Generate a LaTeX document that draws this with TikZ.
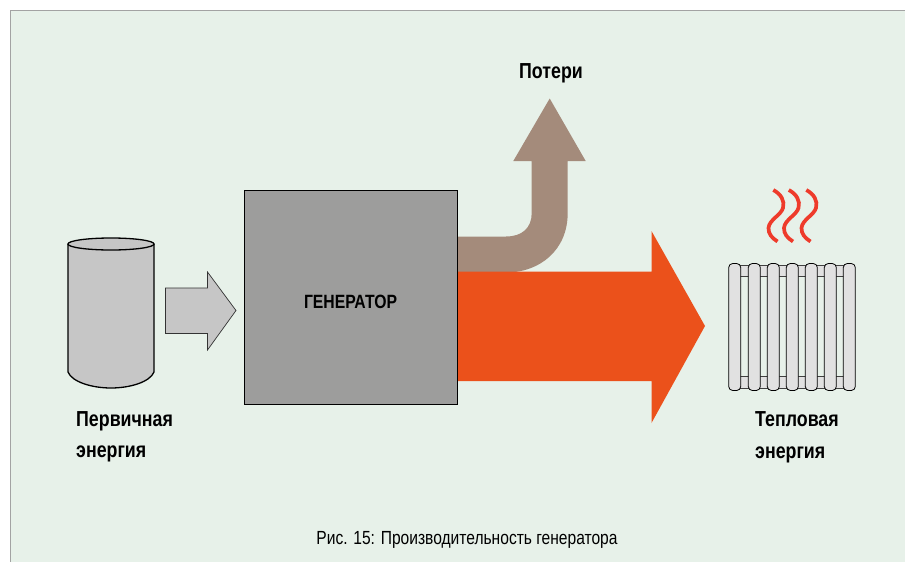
\documentclass[tikz,border=0pt]{standalone}
\usepackage{fontspec}
\usepackage{tikz}
\setmainfont{Liberation Sans}
\newfontfamily\narrowfont[FakeStretch=0.82]{Liberation Sans}
\definecolor{panelgreen}{HTML}{E7F1E9}
\definecolor{framegray}{HTML}{A3A3A3}
\definecolor{tankgray}{HTML}{C6C6C6}
\definecolor{gengray}{HTML}{9D9D9C}
\definecolor{lossbrown}{HTML}{A48B7B}
\definecolor{heatorange}{HTML}{EB511B}
\definecolor{wavered}{HTML}{EE3B2B}
\definecolor{ribgray}{HTML}{E1E1E1}

\begin{document}
\begin{tikzpicture}[x=1pt,y=-1pt,
                    main label/.style={font=\narrowfont\bfseries\fontsize{21.7}{22}\selectfont,inner sep=0pt},
                    left label/.style={main label,anchor=base west},
                    rib/.style={draw=black,line width=0.8pt,fill=ribgray,rounded corners=4pt},
                    band/.style={draw=black!75,line width=0.7pt,fill=ribgray},
                    heat wave/.style={draw=wavered,line width=3.7pt}]

  \useasboundingbox (0,0) rectangle (905,562);
  \fill[panelgreen] (10,10) rectangle (905,562);
  \draw[framegray,line width=1pt] (905,10) -- (10,10) -- (10,562);

  % tank and small arrow
  \draw[fill=tankgray,line width=1.3pt] (68,244) -- (68,372)
    .. controls (72,382) and (92,388) .. (111,388)
    .. controls (130,388) and (150,382) .. (154,372) -- (154,244);
  \draw[fill=tankgray,line width=1.3pt] (111,244) ellipse [x radius=43,y radius=6];
  \draw[fill=tankgray,draw=black!80,line width=0.7pt] (165.5,288) -- (207.5,288) -- (207.5,272)
    -- (236,310.5) -- (207.5,350) -- (207.5,333.5) -- (165.5,333.5) -- cycle;

  % generator
  \node[draw=black,line width=0.8pt,fill=gengray,minimum width=213.5pt,minimum height=214pt,
        inner sep=0pt,anchor=north west] (gen) at (243.5,190) {};
  \node[main label,font=\narrowfont\bfseries\fontsize{19.2}{20}\selectfont] (genlabel) at (350.5,302) {ГЕНЕРАТОР};

  % flows
  \fill[lossbrown] (gen.east |- 0,236.5) -- (506,236.5)
    .. controls (522,236.5) and (531.7,228) .. (531.7,213) -- (531.7,161) -- (513.3,161)
    -- (549.7,98.5) -- (585.7,161) -- (567.7,161) -- (567.7,213)
    .. controls (567.7,250) and (540,272.5) .. (506,272.5) -- (gen.east |- 0,272.5) -- cycle;
  \fill[heatorange] (gen.east |- 0,271.5) -- (651.5,271.5) -- (651.5,231)
    -- (705,326) -- (651.5,423) -- (651.5,381) -- (gen.east |- 0,381) -- cycle;
  \draw[black,line width=0.8pt] (gen.north east) -- (gen.south east);

  % radiator
  \foreach \y/\h in {265.7/11,376.2/11.8}
    \draw[band] (734,\y) rectangle (850,\y+\h);
  \foreach \x in {728.7,748.3,767.3,786.3,805.3,824.3,843.3}
    \draw[rib] (\x,263.5) rectangle (\x+12,390.5);

  \foreach \dx in {0,15.5,33}
    \draw[heat wave,xshift=\dx pt] (773.3,190) .. controls (781,194) and (785,201) .. (783,208)
      .. controls (781,215) and (769,220) .. (768.5,228)
      .. controls (768.3,234) and (772,238) .. (777.5,241.5);

  % texts
  \node[main label] (loss) at (551,73) {Потери};
  \node[left label] (prim1) at (76,426) {Первичная};
  \node[left label] (prim2) at (76,457) {энергия};
  \node[left label] (therm1) at (755,426) {Тепловая};
  \node[left label] (therm2) at (755,458) {энергия};
  \node[font=\narrowfont\fontsize{19}{20}\selectfont,inner sep=0pt] (caption) at (467,540)
    {Рис. 15: Производительность генератора};
\end{tikzpicture}
\end{document}
